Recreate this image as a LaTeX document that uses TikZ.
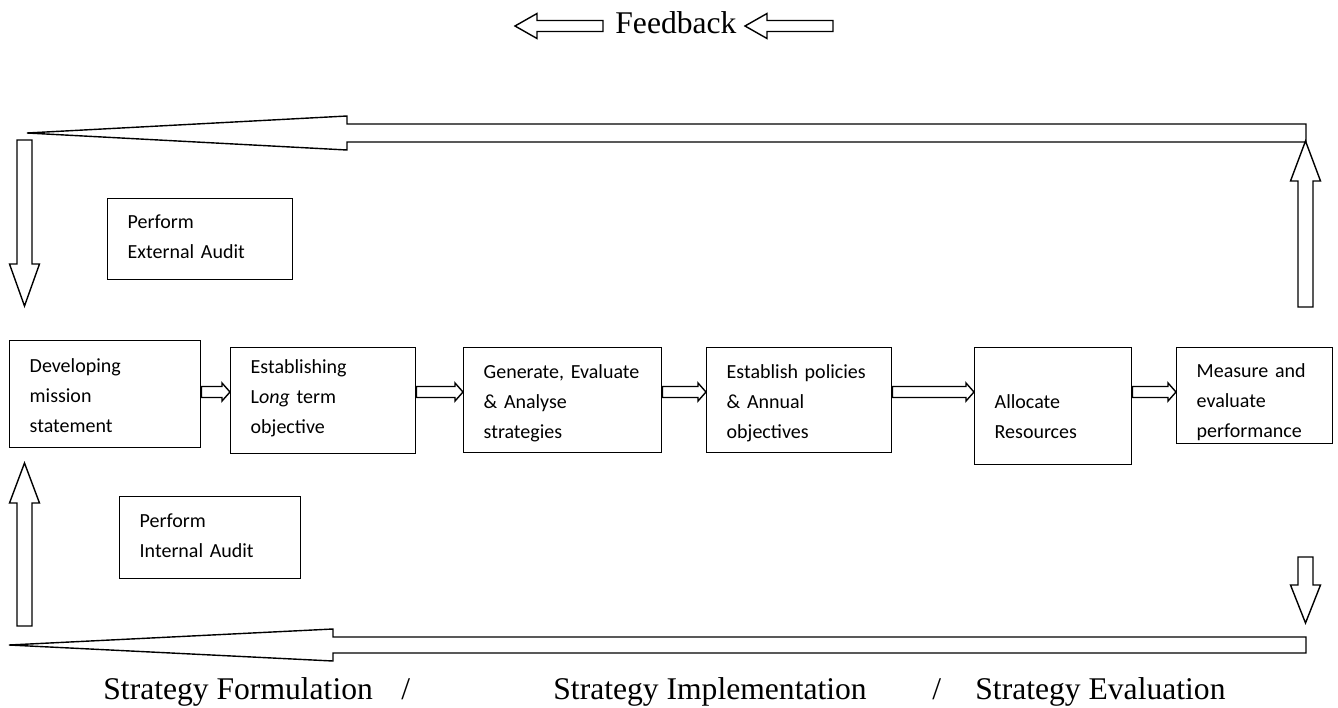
\documentclass[tikz,border=0pt]{standalone}
\usepackage{fontspec}
\setmainfont{Liberation Serif}
\newfontfamily\boxfont{Carlito}
\usetikzlibrary{calc}
\tikzset{
  stage/.style n args={3}{draw, line width=0.7pt, anchor=north west, align=left,
    font=\fontsize{10}{15}\selectfont\boxfont, inner xsep=10pt, inner ysep=0pt,
    text width={#1*0.5pt-20pt}, text height={#3*0.5pt}, text depth={(#2-#3)*0.5pt}},
  phase/.style={anchor=base west, inner sep=0pt, font=\fontsize{15.8}{19}\selectfont},
  blockarrow/.style n args={3}{draw, line width=0.7pt, line join=miter, to path={
    let \p1=(\tikztostart), \p2=(\tikztotarget), \p3=($(\p2)!#3!(\p1)$) in
    ($(\p1)!#1!90:(\p2)$) -- ($(\p3)!#1!90:(\p2)$) -- ($(\p3)!#2!90:(\p2)$) -- (\p2)
    -- ($(\p3)!#2!-90:(\p2)$) -- ($(\p3)!#1!-90:(\p2)$) -- ($(\p1)!#1!-90:(\p2)$) -- cycle}},
}

\begin{document}
\begin{tikzpicture}[x=0.5pt, y=-0.5pt]
\useasboundingbox (0,0) rectangle (1338,707);
% heading
\node [phase] (fb) at (615,33) {Feedback};
\coordinate (fbLtail) at (603,26);
\coordinate (fbLtip) at (515,26);
\coordinate (fbRtail) at (833,26);
\coordinate (fbRtip) at (745,26);
\draw [blockarrow={2.75pt}{6.25pt}{11pt}] (fbLtail) to (fbLtip);
\draw [blockarrow={2.75pt}{6.25pt}{11pt}] (fbRtail) to (fbRtip);

% audits
\node [stage={185}{81}{30}] (external) at (107,198) {Perform\\External Audit};
\node [stage={181}{82}{31}] (internal) at (119,496) {Perform\\Internal Audit};

% main flow
\node [stage={191}{107}{32}] (mission) at (9,340) {Developing\\mission\\statement};
\node [stage={185}{106}{26}] (longterm) at (230,347) {Establishing\\L\textit{ong} term\\objective};
\node [stage={198}{105}{31}] (strategies) at (463,347) {Generate, Evaluate\\\& Analyse\\strategies};
\node [stage={185}{105}{31}] (policies) at (706,347) {Establish policies\\\& Annual\\objectives};
\node [stage={157}{117}{61}] (resources) at (974,347) {Allocate\\Resources};
\node [stage={156}{96}{30}] (measure) at (1176,347) {Measure and\\evaluate\\performance};

\coordinate (flow) at (0,392);
\foreach \a/\b in {mission/longterm, longterm/strategies, strategies/policies,
                   policies/resources, resources/measure}
  \draw [blockarrow={2.75pt}{4.5pt}{4pt}] (\a.east |- flow) to (\b.west |- flow);

% feedback loop
\coordinate (topR) at (1306,133);
\coordinate (topL) at (27,133);
\coordinate (upRtail) at (1305.5,307);
\coordinate (upRtip) at (1305.5,141);
\coordinate (dnLtail) at (24.5,140);
\coordinate (dnLtip) at (24.5,306);
\coordinate (upLtail) at (24.5,626);
\coordinate (upLtip) at (24.5,463);
\coordinate (dnRtail) at (1305.5,557);
\coordinate (dnRtip) at (1305.5,623);
\coordinate (botR) at (1306,645);
\coordinate (botL) at (9,645);
\draw [blockarrow={4.5pt}{8.5pt}{160pt}] (topR) to (topL);
\draw [blockarrow={4pt}{8pt}{162pt}] (botR) to (botL);
\draw [blockarrow={3.75pt}{7.5pt}{20pt}] (upRtail) to (upRtip);
\draw [blockarrow={3.75pt}{7.5pt}{21pt}] (dnLtail) to (dnLtip);
\draw [blockarrow={3.75pt}{7.5pt}{20pt}] (upLtail) to (upLtip);
\draw [blockarrow={3.75pt}{7.5pt}{19pt}] (dnRtail) to (dnRtip);

% phases
\node [phase] (formulation) at (103,699) {Strategy Formulation};
\node [phase] (slashA) at (401,699) {/};
\node [phase] (implementation) at (553,699) {Strategy Implementation};
\node [phase] (slashB) at (932,699) {/};
\node [phase] (evaluation) at (975,699) {Strategy Evaluation};
\end{tikzpicture}
\end{document}
